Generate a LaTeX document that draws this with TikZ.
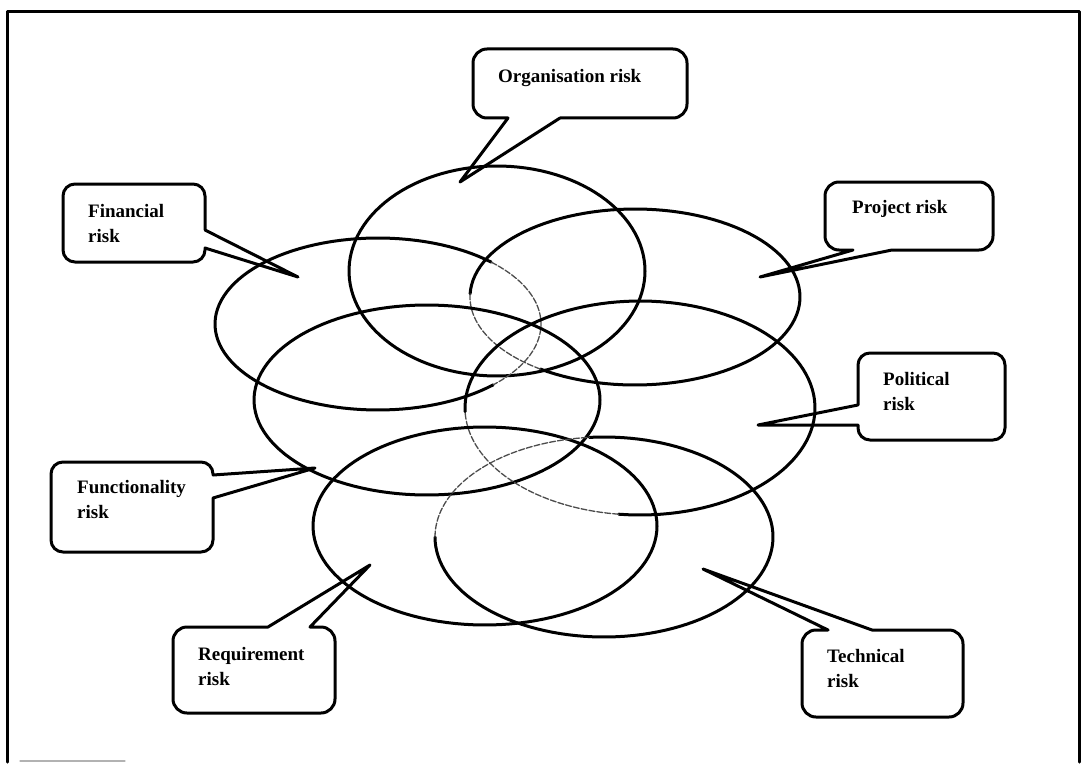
\documentclass[tikz,border=0pt]{standalone}
\usepackage{fontspec}
\setmainfont{Liberation Serif}
\begin{document}
\begin{tikzpicture}[x=1pt,y=-1pt, line join=round, line cap=round,
  riskline/.style={draw=black, line width=3pt},
  faintline/.style={draw=black!70, line width=1.3pt, dash pattern=on 6pt off 2pt},
  callout/.style={draw=black, line width=3pt},
  lbl/.style={font=\bfseries\fontsize{19}{25}\selectfont, inner sep=0pt, align=left, anchor=base west}]
\useasboundingbox (0,0) rectangle (1086,765);
% outer frame
\draw[line width=3pt] (7,762) -- (7,12) -- (1079,12) -- (1079,762);
\draw[gray!60, line width=1.2pt] (20,761) -- (125,761);

% centres of the overlapping risk areas
\coordinate (org)  at (497,271);
\coordinate (fin)  at (378,324);
\coordinate (proj) at (635,297);
\coordinate (func) at (427,400);
\coordinate (pol)  at (640,408);
\coordinate (req)  at (485,526);
\coordinate (tech) at (604,537);

% risk areas: full outlines, some with a faint stretch where they run inside the others
\draw[riskline] plot[domain=0:360, samples=120] ({497+148*cos(\x)},{271+105*sin(\x)});
\draw[riskline] plot[domain=45:314, samples=90] ({378+163*cos(\x)},{324+86*sin(\x)});
\draw[faintline] plot[domain=314:405, samples=40] ({378+163*cos(\x)},{324+86*sin(\x)});
\draw[riskline] plot[domain=182:485, samples=100] ({635+165*cos(\x)},{297+88*sin(\x)});
\draw[faintline] plot[domain=125:182, samples=30] ({635+165*cos(\x)},{297+88*sin(\x)});
\draw[riskline] plot[domain=0:360, samples=120] ({427+173*cos(\x)},{400+95*sin(\x)});
\draw[riskline] plot[domain=178:457, samples=100] ({640+175*cos(\x)},{408+107*sin(\x)});
\draw[faintline] plot[domain=97:178, samples=40] ({640+175*cos(\x)},{408+107*sin(\x)});
\draw[riskline] plot[domain=0:360, samples=120] ({485+172*cos(\x)},{526+99*sin(\x)});
\draw[riskline] plot[domain=265:540, samples=100] ({604+169*cos(\x)},{537+100*sin(\x)});
\draw[faintline] plot[domain=180:265, samples=40] ({604+169*cos(\x)},{537+100*sin(\x)});

% pointer tips
\coordinate (orgtip)  at (460,182);
\coordinate (fintip)  at (298,277);
\coordinate (projtip) at (760,277);
\coordinate (poltip)  at (758,425);
\coordinate (functip) at (315,468);
\coordinate (reqtip)  at (370,565);
\coordinate (techtip) at (703,569);

% callouts (label baselines are given for the last line)
\draw[callout] (560,118) -- (orgtip) -- (508,118) [rounded corners=14pt]
  -- (473,118) -- (473,49) -- (687,49) -- (687,118) -- (560,118);
\node[lbl] (orgtxt) at (498,83) {Organisation risk};

\draw[callout] (205,230) -- (fintip) -- (205,248) [rounded corners=12pt]
  -- (205,262) -- (63,262) -- (63,184) -- (205,184) -- (205,230);
\node[lbl] (fintxt) at (88,242) {Financial\\risk};

\draw[callout] (892,250) -- (projtip) -- (853,250) [rounded corners=14pt]
  -- (825,250) -- (825,182) -- (993,182) -- (993,250) -- (892,250);
\node[lbl] (projtxt) at (852,213) {Project risk};

\draw[callout] (858,405) -- (poltip) -- (858,425) [rounded corners=12pt]
  -- (858,440) -- (1005,440) -- (1005,353) -- (858,353) -- (858,405);
\node[lbl] (poltxt) at (883,410) {Political\\risk};

\draw[callout] (213,475) -- (functip) -- (213,498) [rounded corners=12pt]
  -- (213,552) -- (51,552) -- (51,462) -- (213,462) -- (213,475);
\node[lbl] (functxt) at (77,518) {Functionality\\risk};

\draw[callout] (268,627) -- (reqtip) -- (310,627) [rounded corners=14pt]
  -- (335,627) -- (335,713) -- (173,713) -- (173,627) -- (268,627);
\node[lbl] (reqtxt) at (198,685) {Requirement\\risk};

\draw[callout] (828,630) -- (techtip) -- (872,630) [rounded corners=14pt]
  -- (963,630) -- (963,717) -- (802,717) -- (802,630) -- (828,630);
\node[lbl] (techtxt) at (827,687) {Technical\\risk};
\end{tikzpicture}
\end{document}
